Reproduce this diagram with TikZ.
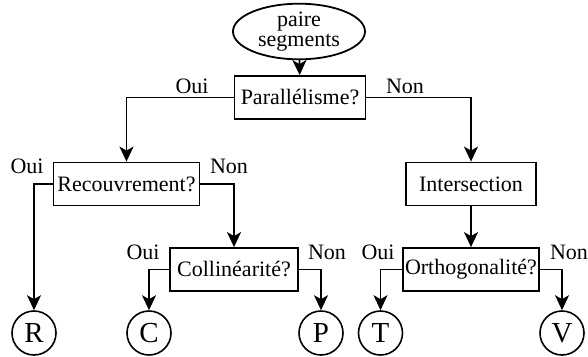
\documentclass[tikz,border=0pt]{standalone}
\usepackage{fontspec}
\setmainfont{Liberation Serif}
\usetikzlibrary{shapes.geometric,arrows.meta}
\begin{document}
\begin{tikzpicture}[x=1pt,y=-1pt,
  every node/.style={font=\fontsize{22}{20}\selectfont},
  test/.style={draw,line width=1.8pt,rectangle,minimum height=43pt,inner sep=2pt},
  leaf/.style={draw,line width=1.6pt,circle,minimum size=44pt,inner sep=0pt,font=\fontsize{29}{29}\selectfont},
  start/.style={draw,line width=1.8pt,ellipse,minimum width=132pt,minimum height=45pt,inner sep=0pt,align=center},
  lab/.style={inner sep=0pt,anchor=center},
  arr/.style={line width=1.8pt,-{Stealth[length=15pt,width=14pt,inset=4pt]}}]
\useasboundingbox (0,0) rectangle (588,356);

% start and decision boxes
\node[start] (src) at (299,31.5) {paire\\segments};
\node[test,minimum width=131pt] (para) at (300,97.5) {Parallélisme?};
\node[test,minimum width=146pt] (rec) at (126.5,184) {Recouvrement?};
\node[test,minimum width=130pt] (inter) at (471,184) {Intersection};
\node[test,minimum width=128pt] (col) at (234,269.5) {Collinéarité?};
\node[test,minimum width=136pt] (orth) at (471,269.5) {Orthogonalité?};

% outcomes
\node[leaf] (R) at (34,333) {R};
\node[leaf] (C) at (149,333) {C};
\node[leaf] (P) at (321,333) {P};
\node[leaf] (T) at (380.5,333) {T};
\node[leaf] (V) at (562,333) {V};

% branch labels
\node[lab] (l1) at (192,86) {Oui};
\node[lab] (l2) at (405,86) {Non};
\node[lab] (l3) at (27,166) {Oui};
\node[lab] (l4) at (229,166) {Non};
\node[lab] (l5) at (143,252) {Oui};
\node[lab] (l6) at (327,252) {Non};
\node[lab] (l7) at (378,252) {Oui};
\node[lab] (l8) at (569,252) {Non};

% connectors
\draw[arr] (src) -- (para);
\draw[arr] (para.west) -| (rec.north);
\draw[arr] (para.east) -| (inter.north);
\draw[arr] (rec.west) -| (R.north);
\draw[arr] (rec.east) -| (col.north);
\draw[arr] (col.west) -| (C.north);
\draw[arr] (col.east) -| (P.north);
\draw[arr] (inter) -- (orth);
\draw[arr] (orth.west) -| (T.north);
\draw[arr] (orth.east) -| (V.north);
\end{tikzpicture}
\end{document}
